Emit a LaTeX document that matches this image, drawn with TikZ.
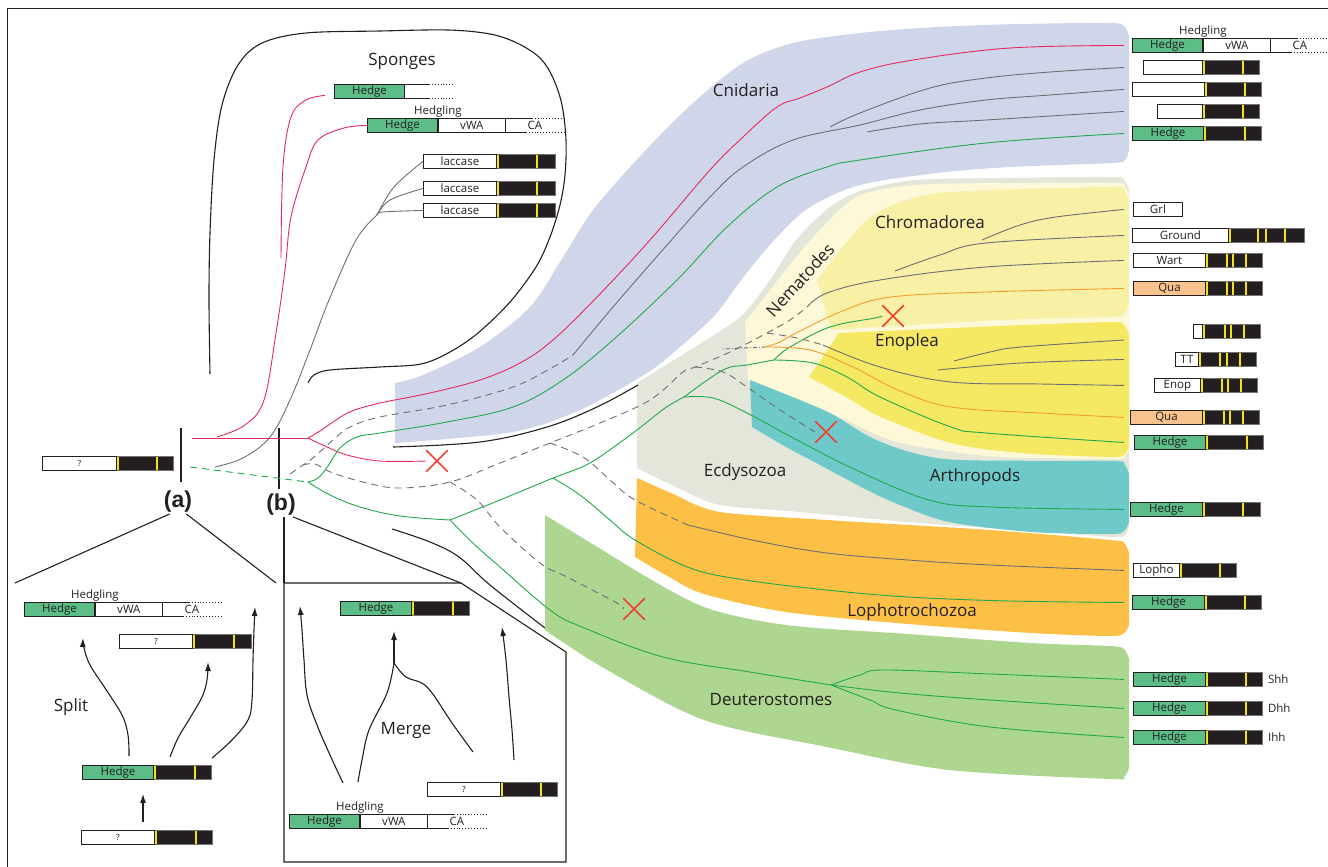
\documentclass[tikz,border=0pt]{standalone}
\usepackage{fontspec}
\setmainfont{Open Sans}
\newfontfamily\panelfont{Liberation Sans}
\usetikzlibrary{arrows.meta,shapes.misc}

\definecolor{cnidfill}{HTML}{CFD6E9}
\definecolor{ecdyfill}{HTML}{E4E6D9}
\definecolor{nemafill}{HTML}{FCF8D8}
\definecolor{chromfill}{HTML}{F8F0A5}
\definecolor{enopfill}{HTML}{F5E862}
\definecolor{arthfill}{HTML}{6FC9C8}
\definecolor{lophfill}{HTML}{FCC046}
\definecolor{deutfill}{HTML}{ADD790}
\definecolor{hedgegreen}{HTML}{5CBD86}
\definecolor{quaorange}{HTML}{F9C38E}
\definecolor{barblack}{HTML}{231F20}
\definecolor{markyellow}{HTML}{F2E219}
\definecolor{treered}{HTML}{E8285A}
\definecolor{treegreen}{HTML}{20A84C}
\definecolor{treegrey}{HTML}{6D6E73}
\definecolor{treeorange}{HTML}{F39C2D}
\definecolor{lossred}{HTML}{EE4036}
\definecolor{inkgrey}{HTML}{231F20}

\newcommand{\genefont}{\fontsize{11.5}{12}\selectfont}

% gene bar: name, x, top, label, domain style, domain width, tail width, yellow marks
\newcommand{\genebar}[8]{%
  \node[dombox,#5,minimum width=#6,anchor=north west] (#1) at (#2,#3) {#4};
  \node[tailbox,minimum width=#7,anchor=west] (#1t) at (#1.east) {};
  \foreach \m in {#8}{\draw[ymark] ([xshift=\m]#1t.north west) -- ([xshift=\m]#1t.south west);}%
}

% Hedgling bar: name, x, top
\newcommand{\hedgling}[3]{%
  \node[dombox,hedge,minimum width=70,anchor=north west] (#1) at (#2,#3) {Hedge};
  \node[dombox,minimum width=67,anchor=west] (#1v) at (#1.east) {vWA};
  \node[font=\genefont,text=inkgrey,inner sep=0pt] (#1c) at ([xshift=29]#1v.east) {CA};
  \node[font=\genefont,text=inkgrey,anchor=south,inner sep=1pt] (#1l) at (#1.north east) {Hedgling};
  \draw[line width=0.9pt,draw=inkgrey] (#1v.north east) -- ++(26,0) (#1v.south east) -- ++(20,0);
  \draw[line width=0.9pt,draw=inkgrey,dotted] ([xshift=26]#1v.north east) -- ++(32,0) ([xshift=20]#1v.south east) -- ++(38,0);
}

\begin{document}
\begin{tikzpicture}[x=1pt,y=-1pt,
  dombox/.style={draw=inkgrey,line width=0.9pt,fill=white,inner sep=0pt,minimum height=14pt,font=\genefont,text=inkgrey},
  hedge/.style={fill=hedgegreen},
  qua/.style={fill=quaorange},
  unknown/.style={font=\fontsize{8.5}{9}\selectfont},
  tailbox/.style={draw=black!55,line width=0.6pt,fill=barblack,inner sep=0pt,minimum height=14pt},
  ymark/.style={draw=markyellow,line width=1.2pt,shorten <=0.8pt,shorten >=0.8pt},
  tree/.style={line width=0.9pt},
  redline/.style={tree,draw=treered},
  greenline/.style={tree,draw=treegreen},
  greyline/.style={tree,draw=treegrey},
  orangeline/.style={tree,draw=treeorange},
  dashline/.style={tree,draw=treegrey,dash pattern=on 7pt off 5pt},
  blackline/.style={line width=1.1pt,draw=inkgrey},
  lossx/.style={cross out,draw=lossred,line width=1.7pt,minimum size=20pt,inner sep=0pt},
  clade/.style={font=\fontsize{17}{19}\selectfont,text=inkgrey},
  panellabel/.style={font=\panelfont\bfseries\fontsize{23}{26}\selectfont,text=inkgrey,inner sep=1pt},
  uparrow/.style={line width=1.1pt,draw=inkgrey,-{Latex[length=9pt,width=6pt]}}
]
\useasboundingbox (0,0) rectangle (1328,867);

% frame
\draw[line width=0.9pt,draw=inkgrey] (7,867) -- (7,8) -- (1328,8);

% clade backgrounds
\fill[cnidfill] (395,443) -- plot[smooth,tension=0.5] coordinates {(395,383) (423,375) (480,347) (530,307) (560,262) (593,210) (643,153) (693,103) (743,63) (793,43) (860,33) (937,27) (1020,24) (1110,23) (1124,26) (1129,36)}
  -- plot[smooth,tension=0.5] coordinates {(1129,150) (1125,160) (1112,163) (1010,167) (937,173) (860,185) (810,207) (777,237) (745,275) (715,315) (680,347) (647,373) (580,410) (513,432) (395,443)} -- cycle;
\fill[ecdyfill] (637,468) -- (637,383) -- plot[smooth,tension=0.5] coordinates {(690,350) (740,317) (770,280) (796,240) (830,207) (863,190) (916,180) (1000,178) (1110,177) (1124,180) (1129,190)}
  -- plot[smooth,tension=0.5] coordinates {(1129,527) (1125,535) (1112,537) (1031,531) (908,522) (800,512) (720,505) (680,489) (637,468)} -- cycle;
\fill[nemafill] (748,380) -- (745,322) -- plot[smooth,tension=0.5] coordinates {(768,293) (792,262) (817,233) (845,205) (870,192) (933,184) (1110,183) (1124,186) (1129,195)}
  -- plot[smooth,tension=0.5] coordinates {(1129,450) (1124,457) (1112,459) (1000,457) (940,450) (890,440) (850,422) (800,400) (748,380)} -- cycle;
\fill[chromfill] (831,330) -- (817,280) -- plot[smooth,tension=0.5] coordinates {(846,243) (867,220) (898,203) (951,192) (1110,187) (1124,190) (1129,200)}
  -- plot[smooth,tension=0.5] coordinates {(1129,305) (1124,314) (1110,317) (1000,320) (831,330)} -- cycle;
\fill[enopfill] (809,377) -- (839,333) -- plot[smooth,tension=0.5] coordinates {(1000,326) (1110,322) (1124,325) (1129,335)}
  -- plot[smooth,tension=0.5] coordinates {(1129,447) (1124,455) (1110,457) (1021,453) (951,443) (881,417) (846,397) (809,377)} -- cycle;
\fill[arthfill] (752,427) -- (750,380) -- plot[smooth,tension=0.5] coordinates {(790,396) (830,413) (870,437) (910,452) (960,460) (1110,461) (1124,464) (1129,474)}
  -- plot[smooth,tension=0.5] coordinates {(1129,522) (1124,531) (1110,534) (1031,532) (949,522) (900,505) (867,490) (820,465) (786,447) (752,427)} -- cycle;
\fill[lophfill] (635,557) -- (637,478) -- plot[smooth,tension=0.5] coordinates {(680,497) (720,512) (827,520) (990,530) (1110,540) (1124,543) (1129,553)}
  -- plot[smooth,tension=0.5] coordinates {(1129,625) (1124,633) (1110,636) (1031,633) (908,624) (786,612) (704,594) (671,578) (635,557)} -- cycle;
\fill[deutfill] (545,630) -- (545,515) -- plot[smooth,tension=0.5] coordinates {(635,570) (704,607) (786,625) (908,634) (1031,643) (1110,646) (1124,649) (1129,659)}
  -- plot[smooth,tension=0.5] coordinates {(1129,768) (1124,777) (1110,779) (949,770) (827,747) (704,720) (602,667) (545,630)} -- cycle;

% clade labels
\node[clade] (sponges) at (402,61) {Sponges};
\node[clade] (cnid) at (746,90) {Cnidaria};
\node[clade] (chrom) at (930,222) {Chromadorea};
\node[clade] (enop) at (907,342) {Enoplea};
\node[clade,rotate=48] (nema) at (800,280) {Nematodes};
\node[clade] (ecdy) at (745,472) {Ecdysozoa};
\node[clade] (arth) at (975,477) {Arthropods};
\node[clade] (loph) at (912,612) {Lophotrochozoa};
\node[clade] (deut) at (771,700) {Deuterostomes};

% gene bars, right column
\hedgling{hgR}{1132}{38}
\genebar{c2}{1143}{60}{}{}{59}{56}{1,40}
\genebar{c3}{1132}{82}{}{}{72}{56}{1,40}
\genebar{c4}{1157}{104}{}{}{45}{56}{1,40}
\genebar{c5}{1132}{126}{Hedge}{hedge}{71}{57}{1,41}
\node[dombox,minimum width=49,anchor=north west] (grl) at (1133,202) {Grl};
\genebar{ground}{1132}{228}{Ground}{}{96}{75}{1,29,37,56}
\genebar{wart}{1133}{253}{Wart}{}{72}{56}{1,21,27,40}
\genebar{quaC}{1133}{281}{Qua}{qua}{72}{56}{1,21,27,40}
\genebar{en1}{1193}{324}{}{}{9}{57}{1,22,28,41}
\genebar{tt}{1175}{352}{TT}{}{23}{57}{1,21,28,41}
\genebar{enopb}{1154}{378}{Enop}{}{46}{56}{1,21,27,40}
\genebar{quaE}{1130}{410}{Qua}{qua}{72}{56}{1,21,27,40}
\genebar{hgN}{1134}{435}{Hedge}{hedge}{71}{57}{1,41}
\genebar{hgA}{1130}{502}{Hedge}{hedge}{72}{57}{1,40}
\genebar{lopho}{1133}{563}{Lopho}{}{46}{56}{1,40}
\genebar{hgL}{1132}{595}{Hedge}{hedge}{72}{56}{1,40}
\genebar{shh}{1133}{672}{Hedge}{hedge}{72}{56}{1,40}
\genebar{dhh}{1133}{701}{Hedge}{hedge}{72}{56}{1,40}
\genebar{ihh}{1133}{730}{Hedge}{hedge}{72}{56}{1,40}
\node[font=\genefont,text=inkgrey,anchor=west] at ([xshift=2]shht.east) {Shh};
\node[font=\genefont,text=inkgrey,anchor=west] at ([xshift=2]dhht.east) {Dhh};
\node[font=\genefont,text=inkgrey,anchor=west] at ([xshift=2]ihht.east) {Ihh};

% sponges
\node[dombox,hedge,minimum width=70,anchor=north west] (hgS) at (334,84) {Hedge};
\draw[line width=0.9pt,draw=inkgrey] (hgS.north east) -- ++(24,0) (hgS.south east) -- ++(24,0);
\draw[line width=0.9pt,draw=inkgrey,dotted] ([xshift=24]hgS.north east) -- ++(24,0) ([xshift=24]hgS.south east) -- ++(24,0);
\hedgling{hgH}{367}{118}
\genebar{lac1}{423}{154}{laccase}{}{73}{58}{1,40}
\genebar{lac2}{423}{181}{laccase}{}{73}{58}{1,40}
\genebar{lac3}{423}{203}{laccase}{}{73}{58}{1,40}
\genebar{qMain}{42}{456}{?}{unknown}{74}{56}{1,40}

% sponge outline and black lines
\draw[blackline] plot[smooth,tension=0.55] coordinates {(210,374) (209,300) (210,233) (214,160) (222,105) (238,65) (262,43) (306,33) (380,31) (448,30) (490,34) (517,43) (540,58) (553,78) (562,105) (566,140) (565,175) (560,205) (550,237) (536,267) (510,302) (478,333) (450,352) (421,364) (380,367) (330,370) (314,375) (308,383)};
\draw[blackline] plot[smooth,tension=0.6] coordinates {(393,447) (480,442) (547,427) (597,407) (638,385)};
\draw[blackline] plot[smooth,tension=0.6] coordinates {(392,529) (430,542) (459,557) (490,585) (545,628)};
\draw[blackline] (181,428) -- (181,482);
\draw[blackline] (279,428) -- (279,489);

% junctions
\coordinate (jr) at (308,438);
\coordinate (jg) at (308,482);
\coordinate (j1) at (450,520);
\coordinate (j3) at (553,478);
\coordinate (j2) at (684,397);
\coordinate (j4) at (774,360);
\coordinate (j5) at (831,685);
\coordinate (js) at (377,215);
\coordinate (jd) at (303,465);
\coordinate (jda) at (450,482);
\coordinate (jdb) at (550,443);
\coordinate (jdc) at (695,367);
\coordinate (jdd) at (767,333);
\coordinate (jo) at (765,347);

% losses
\node[lossx] (x1) at (437,461) {};
\node[lossx] (x2) at (893,316) {};
\node[lossx] (x3) at (826,432) {};
\node[lossx] (x4) at (634,609) {};

% red lineage
\draw[redline] (192,438) -- (jr);
\draw[redline] plot[smooth,tension=0.6] coordinates {(281,258) (283,167) (291,117) (306,100) ([xshift=-9pt,yshift=-4pt]hgS.west)};
\draw[redline] plot[smooth,tension=0.6] coordinates {(217,437) (245,425) (264,400) (276,333) (285,270) (291,217) (306,167) (318,140) (344,128) (hgH.west)};
\draw[redline] plot[smooth,tension=0.6] coordinates {(jr) (320,431) (336,420) (352,411) (380,403) (430,393) (480,380) (520,363) (553,340) (597,297) (650,240) (710,170) (743,137) (777,107) (800,98) (827,87) (860,72) (913,60) (1010,48) (1124,0 |- hgR)};
\draw[redline] plot[smooth,tension=0.6] coordinates {(jr) (325,446) (347,455) (380,461) (x1.west)};

% green lineage
\draw[greenline,dash pattern=on 7pt off 5pt] (190,467) -- (jg);
\draw[greenline] plot[smooth,tension=0.6] coordinates {(jg) (318,478) (328,466) (340,448) (357,437) (380,433) (447,422) (513,407) (563,380) (613,340) (677,280) (727,227) (777,187) (827,167) (860,160) (986,143) (1124,0 |- c5)};
\draw[greenline] plot[smooth,tension=0.6] coordinates {(jg) (330,495) (360,507) (400,516) (j1)};
\draw[greenline] plot[smooth,tension=0.5] coordinates {(j1) (500,500) (j3) (590,463) (633,433) (665,408) (j2)};
\draw[greenline] plot[smooth,tension=0.6] coordinates {(j3) (580,495) (610,520) (635,540) (690,568) (745,580) (827,590) (908,597) (1010,601) (1124,0 |- hgL)};
\draw[greenline] plot[smooth,tension=0.6] coordinates {(j2) (723,370) (747,365) (j4)};
\draw[greenline] plot[smooth,tension=0.6] coordinates {(j4) (790,347) (830,327) (875,318) (x2.west)};
\draw[greenline] plot[smooth,tension=0.6] coordinates {(j4) (813,363) (847,377) (880,397) (951,427) (986,433) (1124,0 |- hgN)};
\draw[greenline] plot[smooth,tension=0.6] coordinates {(j2) (713,398) (747,413) (797,440) (856,470) (929,500) (990,507) (1124,0 |- hgA)};
\draw[greenline] plot[smooth,tension=0.6] coordinates {(j1) (475,545) (500,567) (550,610) (582,627) (663,657) (750,672) (j5)};
\draw[greenline] plot[smooth,tension=0.6] coordinates {(j5) (860,675) (884,670) (990,674) (1124,0 |- shh)};
\draw[greenline] plot[smooth,tension=0.6] coordinates {(j5) (900,693) (990,700) (1124,0 |- dhh)};
\draw[greenline] plot[smooth,tension=0.6] coordinates {(j5) (870,700) (896,710) (990,727) (1124,0 |- ihh)};

% grey lineages
\draw[greyline] plot[smooth,tension=0.6] coordinates {(215,467) (243,458) (270,437) (290,400) (310,350) (329,300) (356,240) (js)};
\draw[greyline] plot[smooth,tension=0.6] coordinates {(js) (394,187) (lac1.west)};
\draw[greyline] plot[smooth,tension=0.6] coordinates {(js) (390,200) (lac2.west)};
\draw[greyline] plot[smooth,tension=0.6] coordinates {(js) (383,212) (lac3.west)};
\draw[dashline] plot[smooth,tension=0.6] coordinates {(290,474) (jd) (313,458) (333,440) (350,427) (380,417) (447,405) (513,387) (553,367) (573,355)};
\draw[greyline] plot[smooth,tension=0.6] coordinates {(573,355) (613,307) (660,253) (710,197) (743,167) (793,140) (860,125) (920,110) (986,100) (1050,95) (1124,0 |- c3)};
\draw[greyline] plot[smooth,tension=0.6] coordinates {(830,127) (860,113) (930,88) (986,78) (1050,72) (1124,0 |- c2)};
\draw[greyline] plot[smooth,tension=0.6] coordinates {(867,132) (920,124) (986,120) (1124,0 |- c4)};
\draw[dashline] plot[smooth,tension=0.6] coordinates {(jd) (315,464) (333,473) (367,483) (400,488) (jda) (500,463) (jdb) (600,423) (650,400) (683,372) (jdc) (730,352) (jdd) (790,320) (807,307)};
\draw[dashline] plot[smooth,tension=0.6] coordinates {(jda) (477,500) (500,527) (540,563) (567,577) (617,603) (x4.west)};
\draw[dashline] plot[smooth,tension=0.6] coordinates {(jdb) (583,457) (610,480) (635,500) (688,525)};
\draw[greyline] plot[smooth,tension=0.6] coordinates {(688,525) (757,541) (827,553) (908,560) (990,565) (1124,0 |- lopho)};
\draw[dashline] plot[smooth,tension=0.6] coordinates {(jdc) (723,372) (747,387) (780,410) (x3.west)};
\draw[greyline] plot[smooth,tension=0.6] coordinates {(807,307) (827,293) (880,280) (986,267) (1124,0 |- wart)};
\draw[greyline] plot[smooth,tension=0.6] coordinates {(895,271) (940,255) (986,243) (1124,0 |- ground)};
\draw[greyline] plot[smooth,tension=0.6] coordinates {(982,240) (1020,225) (1056,217) (1124,0 |- grl)};
\draw[dashline] plot[smooth,tension=0.6] coordinates {(jdd) (797,338) (823,345)};
\draw[greyline] plot[smooth,tension=0.6] coordinates {(823,345) (880,367) (951,382) (1040,384) (1124,0 |- enopb)};
\draw[greyline] plot[smooth,tension=0.6] coordinates {(954,361) (990,352) (1021,347) (1124,340)};
\draw[greyline] plot[smooth,tension=0.6] coordinates {(938,370) (1021,363) (1124,0 |- tt)};

% orange lineage
\draw[tree,draw=treegrey,dash pattern=on 1pt off 2pt on 4pt off 2pt] (723,349) -- (jo);
\draw[orangeline] plot[smooth,tension=0.6] coordinates {(jo) (780,342) (796,333) (845,310) (891,297) (986,292) (1124,0 |- quaC)};
\draw[orangeline] plot[smooth,tension=0.6] coordinates {(jo) (810,350) (853,367) (898,390) (951,407) (1040,413) (1124,0 |- quaE)};

% panel labels
\node[panellabel] (pa) at (178,502) {(a)};
\node[panellabel] (pb) at (281,505) {(b)};
\coordinate (bx1) at (284,583);
\coordinate (bx2) at (461,583);
\draw[blackline] ([xshift=7]pa.south west) -- (15,583);
\draw[blackline] ([xshift=-7]pa.south east) -- (276,583);
\draw[blackline] (pb.south -| bx1) -- (bx1);
\draw[blackline] ([xshift=-4]pb.south east) -- (bx2);
\draw[blackline] (bx1) -- (bx2) -- (566,652) -- (566,862) -- (284,862) -- cycle;

% panel (a): split
\hedgling{hgSa}{24}{602}
\genebar{qA1}{119}{634}{?}{unknown}{73}{58}{1,41}
\genebar{hgA1}{82}{765}{Hedge}{hedge}{71}{57}{1,41}
\genebar{qA2}{81}{830}{?}{unknown}{73}{57}{1,41}
\draw[uparrow,shorten <=8pt,shorten >=14pt] (143,0 |- qA2.north) -- (143,0 |- hgA1.south);
\draw[uparrow] plot[smooth,tension=0.6] coordinates {(129,756) (128,735) (122,715) (105,688) (90,665) (84,648) (83,638)};
\draw[uparrow] plot[smooth,tension=0.6] coordinates {(170,757) (178,738) (190,718) (202,697) (207,680) (208,662)};
\draw[uparrow] plot[smooth,tension=0.6] coordinates {(212,758) (232,740) (248,720) (252,700) (253,660) (254,630) (255,607)};
\node[clade] (split) at (71,707) {Split};

% panel (b): merge
\genebar{hgB1}{340}{601}{Hedge}{hedge}{71}{57}{1,41}
\genebar{qB1}{427}{782}{?}{unknown}{73}{56}{1,40}
\hedgling{hgSb}{289}{814}
\coordinate (jm) at (394,663);
\draw[uparrow] plot[smooth,tension=0.6] coordinates {(343,783) (330,755) (317,725) (307,695) (304,660) (302,630) (300,606)};
\draw[blackline] plot[smooth,tension=0.6] coordinates {(358,782) (362,760) (369,730) (387,693) (jm)};
\draw[blackline] plot[smooth,tension=0.6] coordinates {(473,752) (452,723) (427,687) (406,677) (jm)};
\draw[uparrow] (jm) -- (394,631);
\draw[uparrow] plot[smooth,tension=0.6] coordinates {(514,760) (512,730) (509,697) (506,660) (502,627)};
\node[clade] (merge) at (406,730) {Merge};

\end{tikzpicture}
\end{document}
